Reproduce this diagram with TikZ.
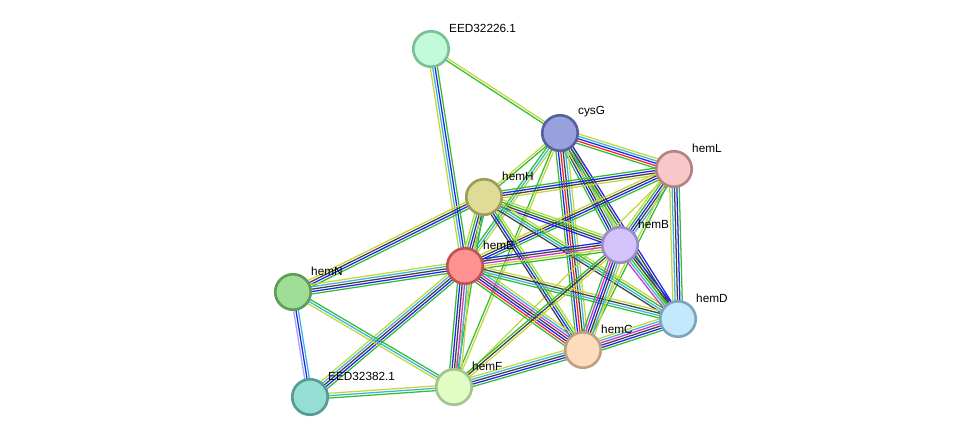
\documentclass[tikz,border=0pt]{standalone}
\usepackage{fontspec}
\setmainfont{Liberation Sans}
\usetikzlibrary{calc, backgrounds}
% evidence colours
\definecolor{cgreen}{RGB}{50,190,50}
\definecolor{cyell}{RGB}{195,215,60}
\definecolor{ccyan}{RGB}{60,180,220}
\definecolor{cblue}{RGB}{35,35,240}
\definecolor{cblack}{RGB}{65,65,65}
\definecolor{cred}{RGB}{245,40,40}
\definecolor{cmag}{RGB}{205,50,205}
\definecolor{clav}{RGB}{165,165,250}
% protein colours
\definecolor{eedAf}{RGB}{192,250,215}\definecolor{eedAd}{RGB}{125,190,150}
\definecolor{cysGf}{RGB}{153,161,221}\definecolor{cysGd}{RGB}{86,96,160}
\definecolor{hemLf}{RGB}{248,200,200}\definecolor{hemLd}{RGB}{180,130,130}
\definecolor{hemHf}{RGB}{222,220,150}\definecolor{hemHd}{RGB}{160,155,90}
\definecolor{hemBf}{RGB}{210,195,250}\definecolor{hemBd}{RGB}{155,140,200}
\definecolor{hemEf}{RGB}{255,145,145}\definecolor{hemEd}{RGB}{190,85,85}
\definecolor{hemNf}{RGB}{158,222,150}\definecolor{hemNd}{RGB}{95,155,90}
\definecolor{hemDf}{RGB}{195,233,252}\definecolor{hemDd}{RGB}{125,165,190}
\definecolor{hemCf}{RGB}{253,220,190}\definecolor{hemCd}{RGB}{190,160,130}
\definecolor{hemFf}{RGB}{225,253,195}\definecolor{hemFd}{RGB}{165,195,140}
\definecolor{eedBf}{RGB}{150,222,212}\definecolor{eedBd}{RGB}{85,155,145}

\tikzset{
  prot/.style 2 args={circle, fill=#1, draw=#2, line width=1.5pt,
    minimum size=0.71cm, inner sep=0pt},
  lbl/.style={font=\fontsize{6.7}{8}\selectfont, inner sep=1pt,
    xshift=1.5pt, yshift=0.5pt},
}

% bundle of parallel evidence lines between two nodes
\newcount\nlines
\newcommand\evedge[3]{%
  \global\nlines=0
  \foreach \ecol in {#3}{\global\advance\nlines by 1}
  \foreach \ecol [count=\i] in {#3}{
    \pgfmathsetmacro\off{(\i-(\the\nlines+1)/2)*1.35}
    \draw[color=\ecol, line width=0.72pt]
      ($(#1)!\off pt!90:(#2)$) -- ($(#2)!\off pt!-90:(#1)$);
  }}

\begin{document}
\begin{tikzpicture}[x=0.02cm, y=-0.02cm]
  \useasboundingbox (0,0) rectangle (975,443);

  % --- proteins ---
  \node[prot={eedAf}{eedAd}, label={[lbl]above right:EED32226.1}] (eedA) at (431,49) {};
  \node[prot={cysGf}{cysGd}, label={[lbl]above right:cysG}] (cysG) at (560,133) {};
  \node[prot={hemLf}{hemLd}, label={[lbl]above right:hemL}] (hemL) at (674,169) {};
  \node[prot={hemHf}{hemHd}, label={[lbl]above right:hemH}] (hemH) at (484,197) {};
  \node[prot={hemBf}{hemBd}, label={[lbl]above right:hemB}] (hemB) at (620,245) {};
  \node[prot={hemEf}{hemEd}, label={[lbl]above right:hemE}] (hemE) at (465,266) {};
  \node[prot={hemNf}{hemNd}, label={[lbl]above right:hemN}] (hemN) at (293,292) {};
  \node[prot={hemDf}{hemDd}, label={[lbl]above right:hemD}] (hemD) at (678,319) {};
  \node[prot={hemCf}{hemCd}, label={[lbl]above right:hemC}] (hemC) at (583,350) {};
  \node[prot={hemFf}{hemFd}, label={[lbl]above right:hemF}] (hemF) at (454,387) {};
  \node[prot={eedBf}{eedBd}, label={[lbl]above right:EED32382.1}] (eedB) at (310,397) {};

  % --- interactions ---
  \begin{scope}[on background layer]
    \evedge{eedA}{cysG}{cgreen,cyell}
    \evedge{eedA}{hemE}{cyell,ccyan,cblue,cgreen}
    \evedge{cysG}{hemL}{cgreen,cred,cblue,ccyan,cyell}
    \evedge{cysG}{hemH}{cyell,cgreen}
    \evedge{cysG}{hemE}{cgreen,ccyan,cyell}
    \evedge{cysG}{hemF}{cgreen,cyell}
    \evedge{cysG}{hemB}{cgreen,cblue,cblack,ccyan,cyell}
    \evedge{cysG}{hemC}{cgreen,cblue,cred,cblack,ccyan,cyell}
    \evedge{cysG}{hemD}{cyell,cgreen,cblack,cblue}
    \evedge{hemL}{hemH}{cgreen,cblue,cblack,cyell}
    \evedge{hemL}{hemE}{cyell,cblack,cblue,cgreen}
    \evedge{hemL}{hemB}{cyell,cgreen,cblue,cblack,ccyan}
    \evedge{hemL}{hemD}{cyell,ccyan,cblack,cblue,cgreen}
    \evedge{hemL}{hemC}{cyell,cgreen}
    \evedge{hemL}{hemF}{cyell}
    \evedge{hemH}{hemE}{cyell,cgreen,cblue,cblack,ccyan}
    \evedge{hemH}{hemB}{cblue,cblack,cgreen,cyell}
    \evedge{hemH}{hemC}{cblack,cblue,cgreen,cyell}
    \evedge{hemH}{hemD}{cblack,ccyan,cgreen,cyell}
    \evedge{hemH}{hemF}{cyell,cgreen}
    \evedge{hemN}{hemH}{cgreen,cblue,cblack,cyell}
    \evedge{hemE}{hemB}{cgreen,cyell,cmag,cblack,cblue}
    \evedge{hemE}{hemC}{cgreen,cred,cblue,cblack,cmag,ccyan,cyell}
    \evedge{hemE}{hemD}{cgreen,ccyan,cblack,cyell}
    \evedge{hemE}{hemF}{cgreen,cblue,cblack,cmag,ccyan,cyell}
    \evedge{hemN}{hemE}{cgreen,cblue,cblack,ccyan,cyell}
    \evedge{eedB}{hemE}{cgreen,cblue,cblack,ccyan,cyell}
    \evedge{hemB}{hemC}{cgreen,cmag,cblue,cblack,ccyan,cyell}
    \evedge{hemB}{hemD}{cmag,ccyan,cgreen,cblack,cblue}
    \evedge{hemB}{hemF}{cgreen,cblack,cyell}
    \evedge{hemC}{hemD}{cgreen,cblue,cblack,cmag,ccyan,cyell}
    \evedge{hemF}{hemC}{cgreen,cblue,cblack,ccyan,cyell}
    \evedge{eedB}{hemF}{cgreen,ccyan,cyell}
    \evedge{hemN}{eedB}{clav,cblue,ccyan}
    \evedge{hemN}{hemF}{cyell,ccyan,cgreen}
  \end{scope}
\end{tikzpicture}
\end{document}
